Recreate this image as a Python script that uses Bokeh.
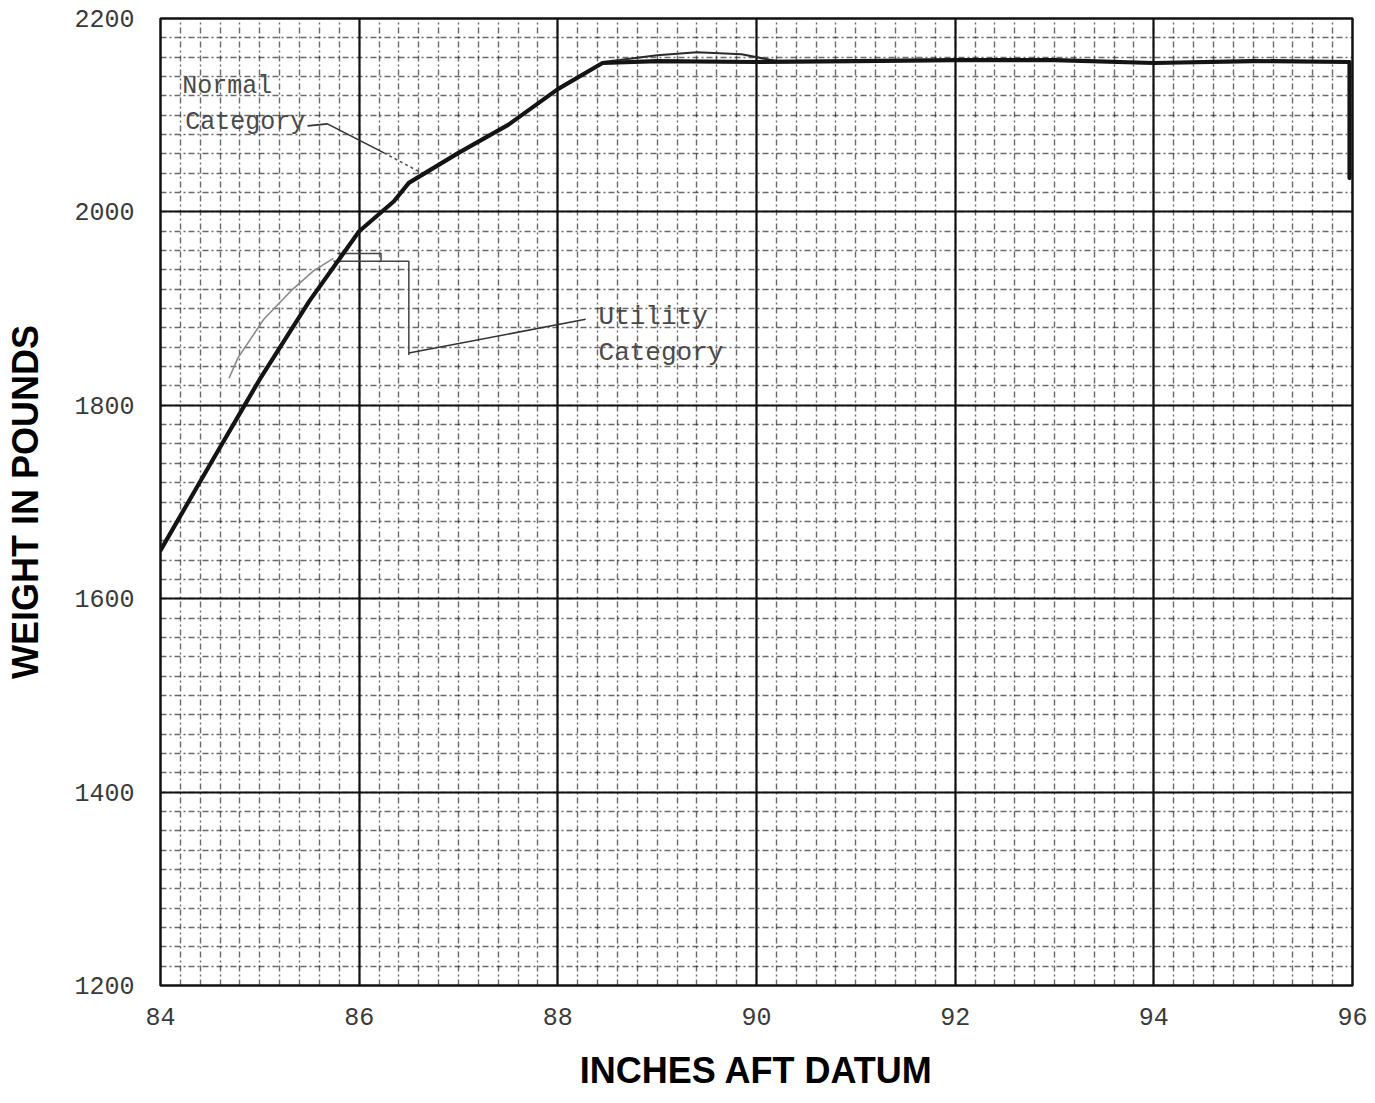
from bokeh.plotting import figure
from bokeh.models import SingleIntervalTicker, Label
from bokeh.embed import file_html
from bokeh.resources import INLINE

# ---- data ----
x_ticks = [84, 86, 88, 90, 92, 94, 96]
y_ticks = [1200, 1400, 1600, 1800, 2000, 2200]

# Normal category envelope (thick line)
normal_x = [84.0, 84.5, 85.0, 85.5, 86.0, 86.35, 86.5, 87.0, 87.5, 88.0, 88.45,
            89.0, 90.0, 91.0, 92.0, 93.0, 94.0, 95.0, 95.97, 95.97]
normal_y = [1650, 1739, 1827, 1908, 1980, 2011, 2030, 2061, 2090, 2127, 2154,
            2156, 2155, 2156, 2157, 2157, 2154, 2156, 2155, 2035]

# hand-drawn retrace near the top
retrace_x = [88.45, 88.62, 89.0, 89.4, 89.85, 90.2]
retrace_y = [2155, 2157, 2162, 2165, 2163, 2156]

# Utility category curve (thin grey)
utility_x = [84.69, 84.78, 85.04, 85.31, 85.54, 85.74]
utility_y = [1828, 1849, 1889, 1918, 1939, 1952]

# bracket + leader for "Utility Category"
bracket_x = [85.78, 86.22, 86.22, 86.5, 86.5]
bracket_y = [1957, 1957, 1949, 1949, 1852]
bracket2_x = [85.74, 86.22]
bracket2_y = [1949, 1949]
uleader_x = [86.5, 88.28]
uleader_y = [1854, 1889]

# leader for "Normal Category"
nleader_x = [85.48, 85.68, 86.25]
nleader_y = [2089, 2091, 2061]
nleader_dot_x = [86.25, 86.65]
nleader_dot_y = [2061, 2039]

# ---- figure ----
p = figure(width=1367, height=1095, x_range=(84, 96), y_range=(1200, 2200),
           output_backend="svg", toolbar_location=None,
           min_border_left=160, min_border_right=15,
           min_border_top=18, min_border_bottom=110,
           x_axis_label="INCHES AFT DATUM", y_axis_label="WEIGHT IN POUNDS")

xt = SingleIntervalTicker(interval=2, num_minor_ticks=10)
yt = SingleIntervalTicker(interval=200, num_minor_ticks=10)
p.xaxis.ticker = xt
p.yaxis.ticker = yt
p.xgrid.ticker = xt
p.ygrid.ticker = yt

for g in (p.xgrid, p.ygrid):
    g.grid_line_color = "#111111"
    g.grid_line_width = 2.2
    g.grid_line_alpha = 1.0
    g.minor_grid_line_color = "#1a1a1a"
    g.minor_grid_line_width = 1.4
    g.minor_grid_line_alpha = 0.65
    g.minor_grid_line_dash = "6 3 2 3"

p.outline_line_color = "#111111"
p.outline_line_width = 2.5
p.background_fill_color = "white"

for ax in (p.xaxis, p.yaxis):
    ax.axis_line_color = None
    ax.major_tick_line_color = None
    ax.minor_tick_line_color = None
    ax.major_label_text_font = "Liberation Mono"
    ax.major_label_text_color = "#3a3a3a"
    ax.major_label_text_font_style = "normal"
    ax.axis_label_text_font = "Liberation Sans"
    ax.axis_label_text_font_style = "bold"
    ax.axis_label_text_font_size = "36px"
    ax.axis_label_text_color = "black"

p.yaxis.major_label_text_font_size = "25px"
p.yaxis.major_label_standoff = 20
p.yaxis.axis_label_standoff = 25
p.xaxis.major_label_text_font_size = "25px"
p.xaxis.major_label_standoff = 16
p.xaxis.axis_label_standoff = 22

# ---- lines ----
p.line(utility_x, utility_y, line_color="#8a8a8a", line_width=1.6)
p.line(bracket_x, bracket_y, line_color="#444444", line_width=1.5)
p.line(bracket2_x, bracket2_y, line_color="#444444", line_width=1.5)
p.line(uleader_x, uleader_y, line_color="#333333", line_width=1.6)
p.line(nleader_x, nleader_y, line_color="#333333", line_width=1.6)
p.line(nleader_dot_x, nleader_dot_y, line_color="#555555", line_width=1.6,
       line_dash="3 3")
p.line(retrace_x, retrace_y, line_color="#2a2a2a", line_width=2)
p.line(normal_x, normal_y, line_color="#141414", line_width=4.2,
       line_join="round", line_cap="round")

# ---- annotation texts ----
def note(x, y, t, size="25px"):
    p.add_layout(Label(x=x, y=y, text=t, text_font="Liberation Mono",
                       text_font_size=size, text_color="#4a4a4a",
                       text_baseline="middle", text_align="left"))

note(84.22, 2130, "Normal")
note(84.25, 2092, "Category")
note(88.41, 1891, "Utility", "26px")
note(88.41, 1854, "Category", "26px")

open("out.html", "w").write(file_html(p, INLINE))
